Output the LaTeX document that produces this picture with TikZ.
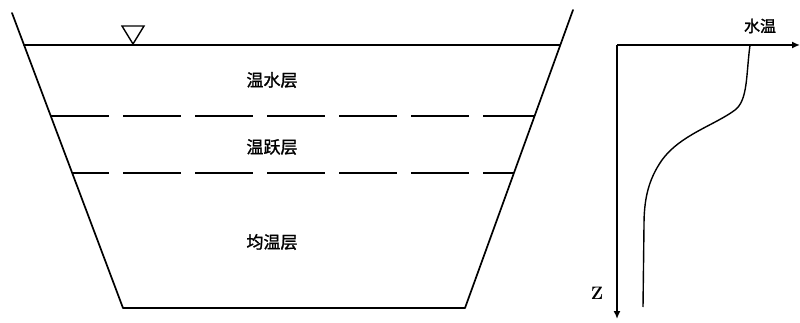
\documentclass[tikz,border=0pt]{standalone}
\usepackage{fontspec}
\newfontfamily\cjk[FakeBold=1.5,AutoFakeBold=1.5]{Noto Sans CJK SC}
\usetikzlibrary{arrows.meta}
\begin{document}
\begin{tikzpicture}[x=1pt,y=-1pt,
  wall/.style={line width=1.7pt,line cap=round,line join=round},
  layer/.style={line width=1.7pt,dash pattern=on 58pt off 14pt},
  lbl/.style={font=\cjk\bfseries\fontsize{17}{17}\selectfont,inner sep=0pt},
  axis/.style={line width=1.7pt,-{Latex[length=8pt,width=7pt]}}]
\useasboundingbox (0,0) rectangle (800,323);
% basin
\draw[wall] (12,13) -- (123,308) -- (465,308) -- (573,10);
\draw[wall] (24,45) -- (560,45);
% water surface mark
\draw[line width=1.4pt,line join=miter] (122,26) -- (144,26) -- (133,44) -- cycle;
% dashed layer boundaries
\draw[layer] (51,116) -- (535,116);
\draw[layer,dash phase=21pt] (72,173) -- (514,173);
% labels
\node[lbl] (t1) at (272,80) {温水层};
\node[lbl] (t2) at (272,147) {温跃层};
\node[lbl] (t3) at (272,242) {均温层};
% axes
\coordinate (o) at (617,45);
\coordinate (xe) at (800,45);
\coordinate (ze) at (617,319);
\draw[axis] (o) -- (xe);
\draw[axis] (o) -- (ze);
\node[font=\cjk\bfseries\fontsize{16}{16}\selectfont,inner sep=0pt] (tw) at (760,26) {水温};
\node[font=\bfseries\fontsize{18}{18}\selectfont,inner sep=0pt] (z) at (597,293) {Z};
% temperature profile
\draw[line width=1.4pt] (750,45) .. controls (746,75) and (748,100) .. (735,110)
  .. controls (715,125) and (680,135) .. (662,160)
  .. controls (648,180) and (644,200) .. (644,225) -- (643,307);
\end{tikzpicture}
\end{document}
